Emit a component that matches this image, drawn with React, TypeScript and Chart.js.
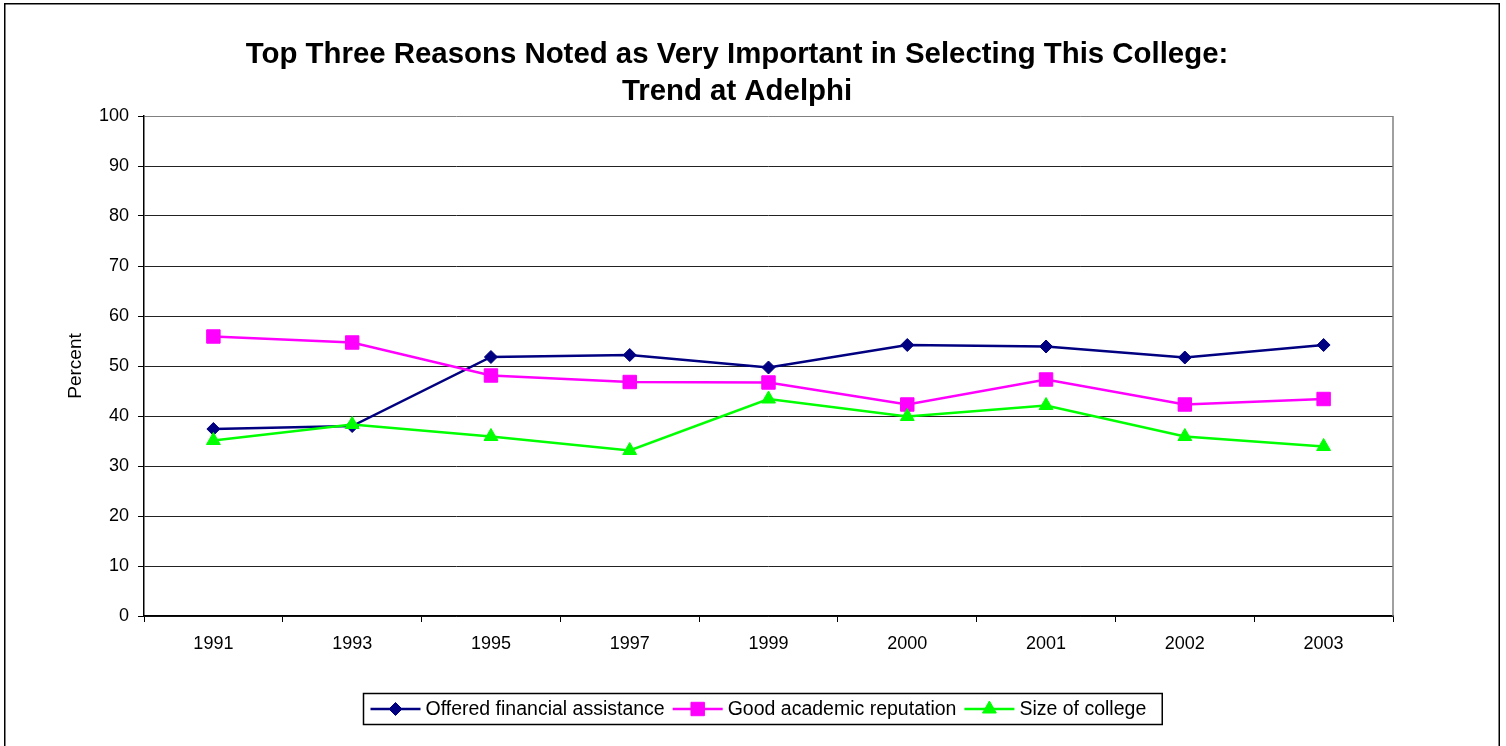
import React, { useEffect, useRef } from 'react';
import { Chart, registerables } from 'chart.js';
import { drawPoint } from 'chart.js/helpers';

Chart.register(...registerables);

const years = ['1991', '1993', '1995', '1997', '1999', '2000', '2001', '2002', '2003'];
const financial = [37.4, 38.0, 51.8, 52.2, 49.7, 54.2, 53.9, 51.7, 54.2];
const academic = [55.9, 54.7, 48.1, 46.8, 46.7, 42.3, 47.3, 42.3, 43.4];
const sizeOfCollege = [35.1, 38.3, 35.9, 33.1, 43.4, 39.9, 42.1, 35.9, 33.9];
const seriesNames = ['Offered financial assistance', 'Good academic reputation', 'Size of college'];
const seriesColors = ['#000080', '#FF00FF', '#00FF00'];
const seriesMarkers = ['rectRot', 'rect', 'triangle'];
const seriesRadius = [6.5, 9.5, 8];
const titleLines = ['Top Three Reasons Noted as Very Important in Selecting This College:', 'Trend at Adelphi'];
const yAxisTitle = 'Percent';

const FONT = '"Liberation Sans", Arial, Helvetica, sans-serif';

const framePlugin = {
  id: 'frame',
  beforeDraw(chart: any) {
    const ctx = chart.ctx;
    ctx.save();
    ctx.fillStyle = '#ffffff';
    ctx.fillRect(0, 0, chart.width, chart.height);
    ctx.strokeStyle = '#000';
    ctx.lineWidth = 1.5;
    ctx.strokeRect(4.75, 3.75, 1494.5, 800);
    // title
    ctx.fillStyle = '#000';
    ctx.font = `bold 29.4px ${FONT}`;
    ctx.textAlign = 'center';
    ctx.textBaseline = 'middle';
    titleLines.forEach((t, i) => ctx.fillText(t, 737, 55 + i * 37));
    ctx.restore();
  },
  beforeDatasetsDraw(chart: any) {
    const ctx = chart.ctx;
    const a = chart.chartArea;
    ctx.save();
    ctx.strokeStyle = '#808080';
    ctx.lineWidth = 1.5;
    ctx.beginPath();
    ctx.moveTo(a.right, a.top);
    ctx.lineTo(a.right, a.bottom);
    ctx.stroke();
    ctx.restore();
  },
  afterDraw(chart: any) {
    const ctx = chart.ctx;
    const ds = chart.data.datasets;
    ctx.save();
    ctx.font = `19.5px ${FONT}`;
    const widths = ds.map((d: any) => ctx.measureText(d.label).width);
    const lineLen = 50, gap1 = 5, gap2 = 8, padL = 7, padR = 16;
    let total = padL + padR;
    widths.forEach((w: number, i: number) => {
      total += lineLen + gap1 + w + (i > 0 ? gap2 : 0);
    });
    const cx = 762.5;
    const left = Math.round(cx - total / 2) + 0.5;
    const top = 693.5;
    const h = 31;
    ctx.strokeStyle = '#000';
    ctx.lineWidth = 1.5;
    ctx.strokeRect(left, top, total, h);
    const cy = top + h / 2;
    let x = left + padL;
    ds.forEach((d: any, i: number) => {
      if (i > 0) x += gap2;
      ctx.strokeStyle = d.borderColor;
      ctx.lineWidth = 2.5;
      ctx.beginPath();
      ctx.moveTo(x, cy);
      ctx.lineTo(x + lineLen, cy);
      ctx.stroke();
      ctx.fillStyle = d.pointBackgroundColor;
      ctx.strokeStyle = d.pointBorderColor;
      ctx.lineWidth = 1;
      drawPoint(ctx, { pointStyle: d.pointStyle, radius: d.pointRadius, borderWidth: 1, rotation: 0 } as any, x + lineLen / 2, cy);
      x += lineLen + gap1;
      ctx.fillStyle = '#000';
      ctx.textAlign = 'left';
      ctx.textBaseline = 'middle';
      ctx.fillText(d.label, x, cy + 1);
      x += widths[i];
    });
    ctx.restore();
  },
};

export default function App() {
  const canvasRef = useRef<HTMLCanvasElement | null>(null);

  useEffect(() => {
    if (!canvasRef.current) return;
    const values = [financial, academic, sizeOfCollege];
    const chart = new Chart(canvasRef.current, {
      type: 'line',
      data: {
        labels: years,
        datasets: values.map((v, i) => ({
          label: seriesNames[i],
          data: v,
          borderColor: seriesColors[i],
          backgroundColor: seriesColors[i],
          pointBackgroundColor: seriesColors[i],
          pointBorderColor: seriesColors[i],
          pointStyle: seriesMarkers[i] as any,
          pointRadius: seriesRadius[i],
          pointBorderWidth: 1,
          borderWidth: 2.5,
          tension: 0,
          fill: false,
          order: 3 - i,
        })),
      },
      options: {
        responsive: false,
        animation: false,
        events: [],
        layout: { padding: { left: 0, top: 116, right: 113, bottom: 0 } },
        plugins: {
          legend: { display: false },
          title: { display: false },
          tooltip: { enabled: false },
        },
        scales: {
          x: {
            type: 'category',
            offset: true,
            grid: {
              offset: true,
              drawOnChartArea: false,
              drawTicks: true,
              tickLength: 6,
              color: '#000',
              tickColor: '#000',
              lineWidth: 1,
            },
            border: { display: true, color: '#000', width: 1.5 },
            ticks: {
              color: '#000',
              font: { size: 18, family: FONT },
              padding: 11,
              maxRotation: 0,
              autoSkip: false,
            },
            afterFit: (s: any) => {
              s.height = 130;
            },
          },
          y: {
            min: 0,
            max: 100,
            ticks: {
              stepSize: 10,
              color: '#000',
              font: { size: 18, family: FONT },
              padding: 9,
            },
            grid: {
              color: (c: any) => (c.tick && c.tick.value === 100 ? '#808080' : '#222'),
              tickColor: '#000',
              tickLength: 6,
              lineWidth: 1,
            },
            border: { display: true, color: '#000', width: 1.5 },
            title: {
              display: true,
              text: yAxisTitle,
              color: '#000',
              font: { size: 19, family: FONT },
              padding: { top: 64, bottom: 0 },
            },
            afterFit: (s: any) => {
              s.width = 144;
            },
          },
        },
      },
      plugins: [framePlugin],
    });
    return () => chart.destroy();
  }, []);

  return (
    <div style={{ position: 'fixed', left: 0, top: 0, width: 1506, height: 746, background: '#fff' }}>
      <canvas ref={canvasRef} width={1506} height={746} style={{ width: 1506, height: 746, display: 'block' }} />
    </div>
  );
}
